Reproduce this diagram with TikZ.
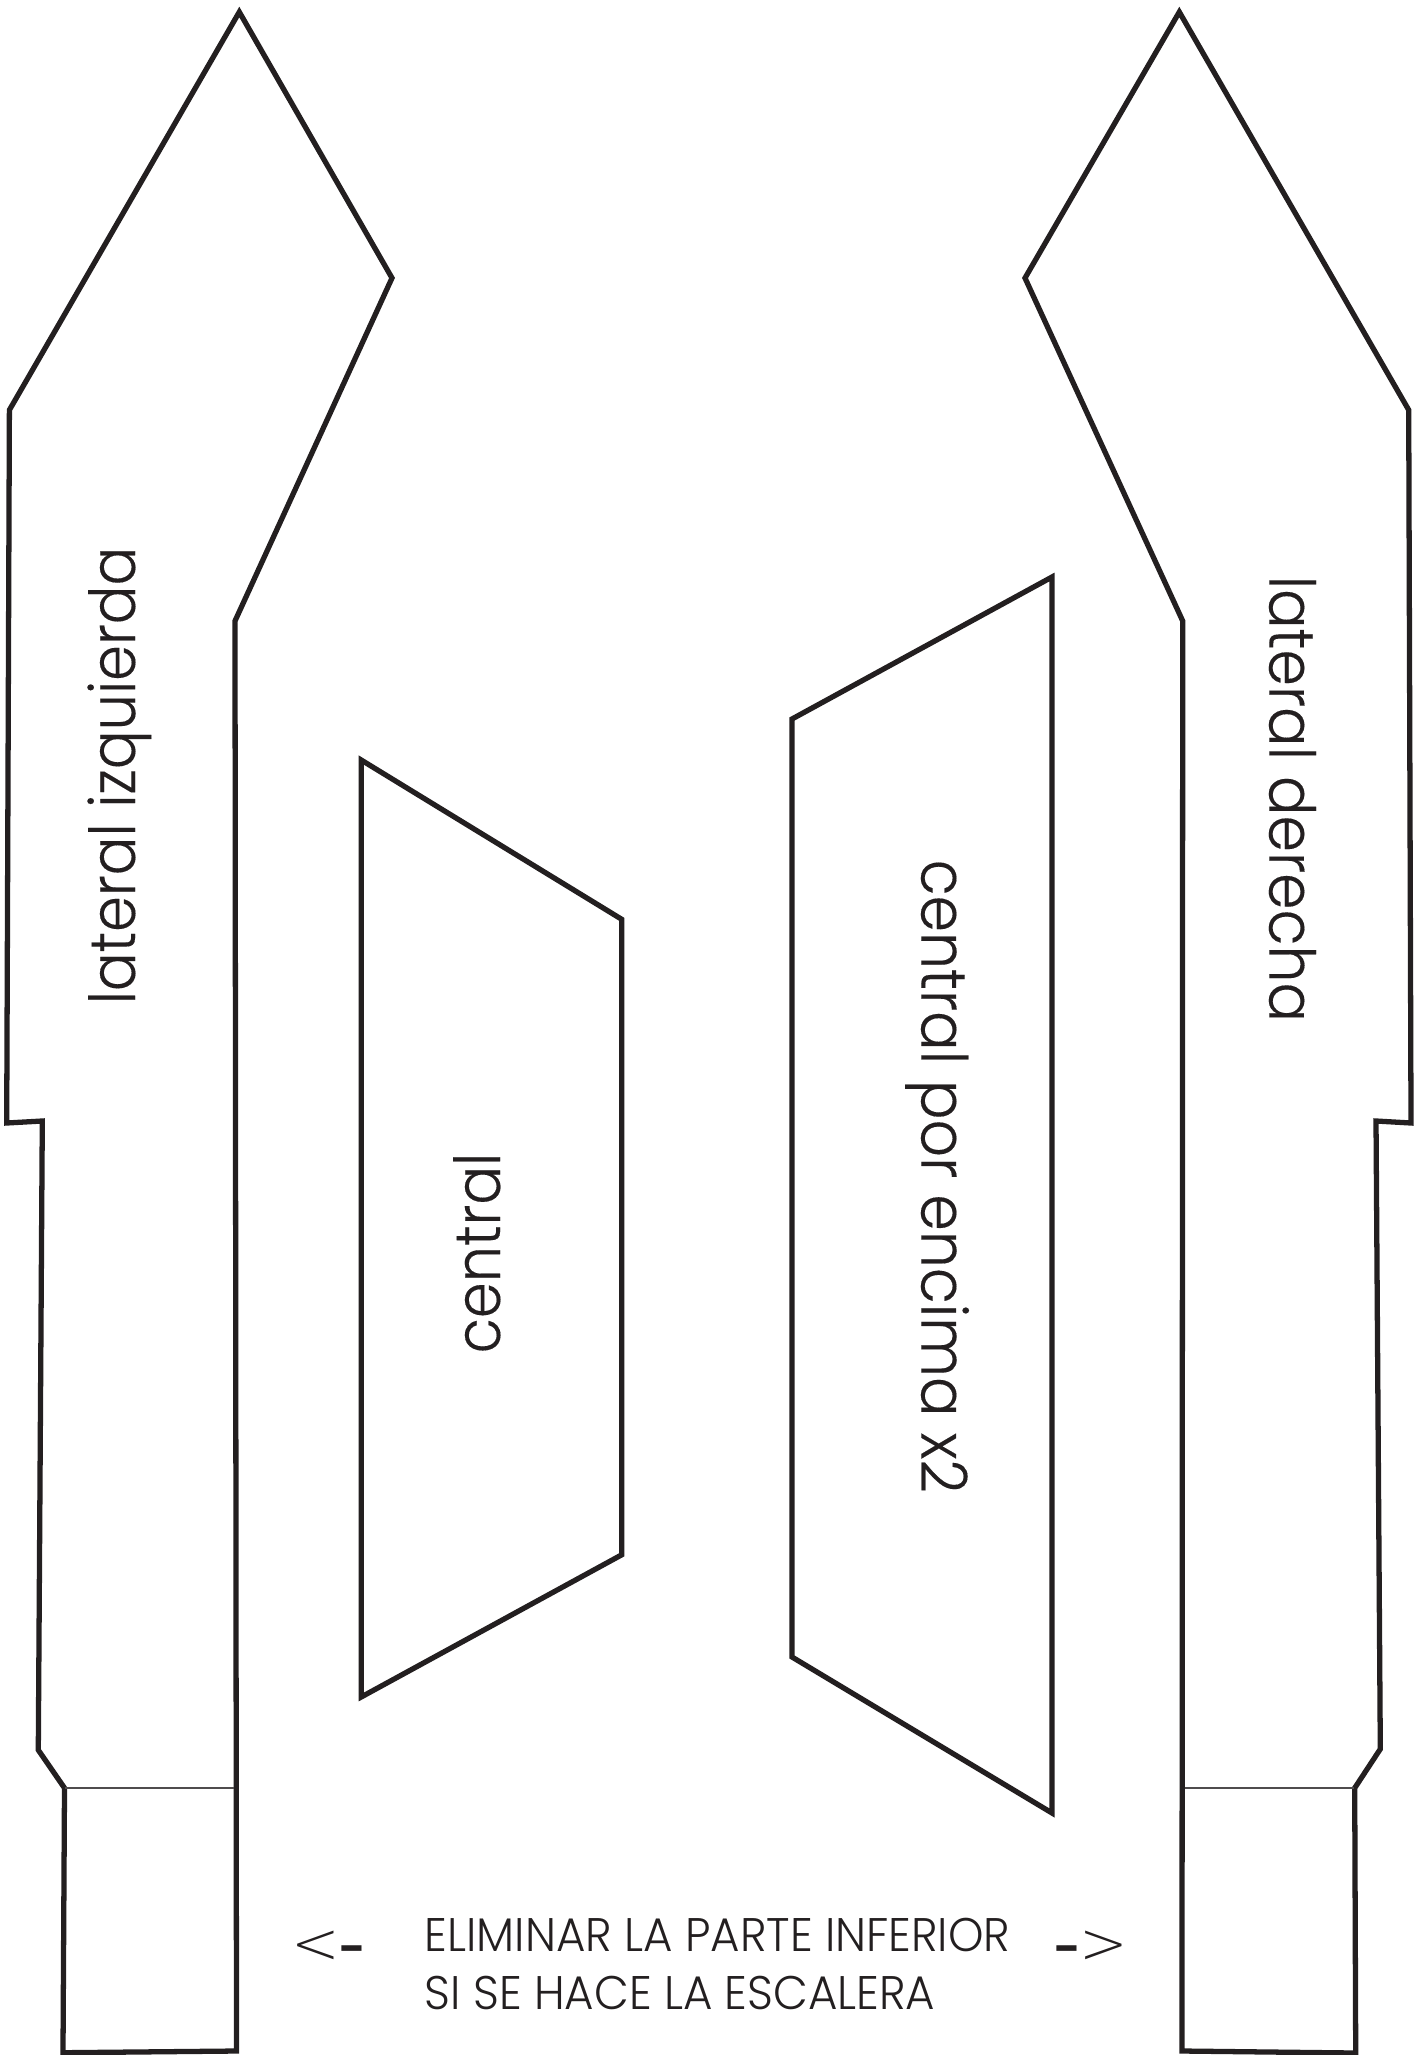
\documentclass[tikz,border=0pt]{standalone}
\usepackage{fontspec}
\setmainfont{Poppins Light}
\newfontfamily\tagfont[FakeStretch=0.908, FakeBold=0.2]{Poppins Light}
\newfontfamily\longtagfont[FakeStretch=0.925, FakeBold=0.2]{Poppins Light}
\newfontfamily\capsfont[FakeStretch=0.958]{Poppins Light}
\newfontfamily\dashfont{Poppins SemiBold}
\newfontfamily\pointerfont{DejaVu Sans ExtraLight}
\usepackage{xcolor}
\usepackage{tikz}
\usetikzlibrary{positioning}
\definecolor{ink}{HTML}{231F20}
\tikzstyle{piece} = [draw=ink, line width=1.5pt, miter limit=10]
\tikzstyle{fold} = [draw=ink!80, line width=0.35pt]
\tikzstyle{tag} = [text=ink, inner sep=0pt, anchor=base west, font=\tagfont\fontsize{18}{18}\selectfont]
\tikzstyle{longtag} = [text=ink, inner sep=0pt, anchor=base west, font=\longtagfont\fontsize{18}{18}\selectfont]
\tikzstyle{note} = [text=ink, inner sep=0pt, anchor=base west, font=\capsfont\fontsize{13.4}{13.4}\selectfont]
\tikzstyle{pointer} = [text=ink, inner sep=0pt, font=\pointerfont\fontsize{16.5}{16.5}\selectfont]
\tikzstyle{hyphen} = [text=ink, inner sep=0pt, font=\dashfont\fontsize{13.5}{13.5}\selectfont]

\begin{document}
\begin{tikzpicture}[x=0.01cm, y=-0.01cm]
  	\useasboundingbox (0,0) rectangle (1421,2055);
  	\draw[piece] (239.3,12)--(392,278)--(235,621)--(236.5,2051)--(63,2052.7)--(64.5,1788)--(38.3,1750)--(42.3,1121)--(6.7,1123)--(9.4,410)--cycle;
  	\draw[piece] (1179.3,12)--(1408.7,410)--(1411,1123)--(1376,1121)--(1380.3,1749)--(1354.7,1788)--(1355.7,2053)--(1182,2051)--(1182.7,621)--(1025,278)--cycle;
  	\draw[piece] (361.2,760)--(621.7,919.3)--(621.7,1554.8)--(361.2,1697)--cycle;
  	\draw[piece] (1052,577)--(792,719)--(792,1657)--(1052,1813)--cycle;
  	\coordinate (foldL1) at (65,1788);
  	\coordinate (foldL2) at (234,1788);
  	\coordinate (foldR1) at (1185,1788);
  	\coordinate (foldR2) at (1354,1788);
  	\draw[fold] (foldL1)--(foldL2);
  	\draw[fold] (foldR1)--(foldR2);
  	\node[tag, rotate=90] (tagleft) at (135,1005) {lateral izquierda};
  	\node[longtag, rotate=-90] (tagright) at (1269.3,575) {lateral derecha};
  	\node[tag, rotate=90] (tagcentral) at (500,1354) {central};
  	\node[longtag, rotate=-90] (tagover) at (921.4,859) {central por encima x2};
  	\node[note] (noteone) at (424,1951.7) {ELIMINAR LA PARTE INFERIOR};
  	\node[note] (notetwo) at (424,2009) {SI SE HACE LA ESCALERA};
  	\node[pointer] (markleft) at (315.5,1947.5) {<};
  	\node[hyphen] (dashleft) at (352.5,1956) {-};
  	\node[hyphen] (dashright) at (1067.5,1956) {-};
  	\node[pointer] (markright) at (1104,1947.5) {>};
\end{tikzpicture}
\end{document}
